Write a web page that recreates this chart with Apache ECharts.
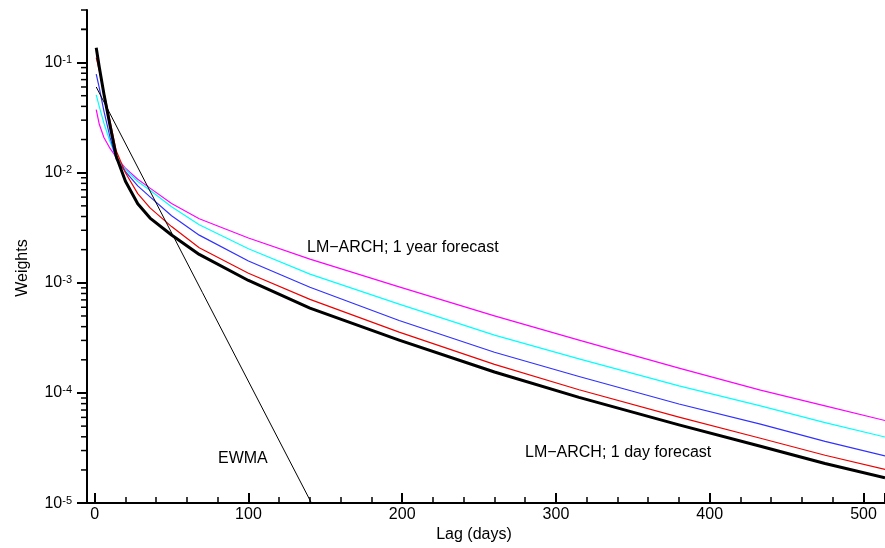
<!DOCTYPE html>
<html>
<head>
<meta charset="utf-8">
<script src="https://cdn.jsdelivr.net/npm/echarts@6/dist/echarts.min.js"></script>
<style>
html, body { margin: 0; padding: 0; background: #fff; }
#main { width: 885px; height: 548px; }
</style>
</head>
<body>
<div id="main"></div>
<script>
const lags = [1, 3, 6, 10, 14, 20, 28, 36, 50, 68, 100, 140, 198, 260, 315, 380, 433, 475, 514]
// LM-ARCH weights, 1 day forecast (thick black) ... 1 year forecast (magenta)
const w1day = [0.136, 0.0908, 0.0518, 0.0267, 0.0141, 0.00836, 0.00522, 0.00387, 0.00272, 0.00181, 0.00105, 0.000589, 0.000302, 0.000155, 0.0000912, 0.0000513, 0.0000328, 0.0000229, 0.0000170]
const wRed = [0.111, 0.0851, 0.0537, 0.0295, 0.0158, 0.0100, 0.00646, 0.00479, 0.00324, 0.00208, 0.00122, 0.000708, 0.000357, 0.000182, 0.000107, 0.0000603, 0.0000388, 0.0000272, 0.0000202]
const wBlue = [0.0785, 0.0589, 0.0363, 0.0209, 0.0132, 0.01023, 0.00759, 0.00603, 0.00407, 0.00271, 0.00158, 0.000912, 0.000455, 0.000234, 0.000141, 0.0000794, 0.0000521, 0.0000363, 0.0000268]
const wCyan = [0.0508, 0.0398, 0.0282, 0.0191, 0.0138, 0.0107, 0.00832, 0.00692, 0.0049, 0.00337, 0.00204, 0.0012, 0.000641, 0.000335, 0.000204, 0.000116, 0.0000764, 0.0000537, 0.0000398]
const w1year = [0.0374, 0.0275, 0.0209, 0.0166, 0.0138, 0.011, 0.00871, 0.00724, 0.00525, 0.00382, 0.00255, 0.00164, 0.00092, 0.000501, 0.000302, 0.000168, 0.000106, 0.0000764, 0.0000562]
// EWMA (straight on the log axis)
const ewmaLags = [1, 70, 141]
const ewma = [0.06, 0.00082, 0.00001]

const xMin = -5
const xMax = 514
const yMin = 1e-5
const yMax = 0.3

// minor ticks of the log axis (2..9 in each decade)
const minorTicks = []
for (let e = -5; e <= -1; e++) {
  for (let k = 2; k <= 9; k++) {
    const v = k * Math.pow(10, e)
    if (v <= yMax)
      minorTicks.push(v)
  }
}
minorTicks.push(0.2, 0.3)

const font = '"Liberation Sans", Arial, Helvetica, sans-serif'

function pairs(xs, ys) {
  return xs.map((x, i) => [x, ys[i]])
}

function curve(name, data, color, width) {
  return {
    name,
    type: 'line',
    data: pairs(lags, data),
    showSymbol: false,
    smooth: false,
    lineStyle: { color, width, join: 'round' },
    z: width > 2 ? 4 : 3,
  }
}

const chart = echarts.init(document.getElementById('main'), null, { renderer: 'canvas' })

chart.setOption({
  animation: false,
  backgroundColor: '#fff',
  grid: { left: 87, right: 0, top: 10, bottom: 40.5 },
  xAxis: {
    type: 'value',
    min: xMin,
    max: xMax,
    splitNumber: 5,
    name: 'Lag (days)',
    nameLocation: 'middle',
    nameGap: 22,
    nameTextStyle: { fontFamily: font, fontSize: 16, color: '#000', padding: [0, 24, 0, 0] },
    axisLine: { onZero: false, lineStyle: { color: '#000', width: 2 } },
    axisTick: { inside: true, length: 10, lineStyle: { color: '#000', width: 2 } },
    minorTick: { show: true, splitNumber: 5, length: 6, lineStyle: { color: '#000', width: 1.5 } },
    splitLine: { show: false },
    axisLabel: {
      fontFamily: font, fontSize: 16, color: '#000', margin: 3,
      showMinLabel: false, showMaxLabel: false,
    },
  },
  yAxis: {
    type: 'log',
    logBase: 10,
    min: yMin,
    max: yMax,
    name: 'Weights',
    nameLocation: 'middle',
    nameGap: 56,
    nameTextStyle: { fontFamily: font, fontSize: 16, color: '#000', padding: [0, 23, 0, 0] },
    axisLine: { onZero: false, lineStyle: { color: '#000', width: 2 } },
    axisTick: { length: 10, lineStyle: { color: '#000', width: 2 } },
    splitLine: { show: false },
    axisLabel: {
      fontFamily: font, fontSize: 16, color: '#000', margin: 15,
      showMaxLabel: false,
      formatter(v) {
        const e = Math.round(Math.log10(v))
        return `10{sup|${e}}`
      },
      rich: {
        sup: { fontFamily: font, fontSize: 11, color: '#000', verticalAlign: 'top', lineHeight: 11 },
      },
    },
  },
  series: [
    curve('LM-ARCH 1 year', w1year, '#ff00ff', 1.2),
    curve('LM-ARCH cyan', wCyan, '#00ffff', 1.2),
    curve('LM-ARCH blue', wBlue, '#3030ff', 1.2),
    curve('LM-ARCH red', wRed, '#ee0000', 1.2),
    curve('LM-ARCH 1 day', w1day, '#000000', 3),
    {
      name: 'EWMA',
      type: 'line',
      data: pairs(ewmaLags, ewma),
      showSymbol: false,
      lineStyle: { color: '#000', width: 1 },
      z: 5,
    },
    {
      // minor ticks of the log axis
      type: 'custom',
      silent: true,
      clip: false,
      data: minorTicks.map(v => [xMin, v]),
      renderItem(params, api) {
        const p = api.coord([api.value(0), api.value(1)])
        return {
          type: 'line',
          shape: { x1: p[0] - 6, y1: p[1], x2: p[0], y2: p[1] },
          style: { stroke: '#000', lineWidth: 1.5 },
        }
      },
      z: 6,
    },
  ],
  graphic: [
    { type: 'text', left: 307, top: 240, style: { text: 'LM\u2212ARCH; 1 year forecast', font: `16px ${font}`, fill: '#000' } },
    { type: 'text', left: 218, top: 451, style: { text: 'EWMA', font: `16px ${font}`, fill: '#000' } },
    { type: 'text', left: 525, top: 445, style: { text: 'LM\u2212ARCH; 1 day forecast', font: `16px ${font}`, fill: '#000' } },
  ],
})
</script>
</body>
</html>
